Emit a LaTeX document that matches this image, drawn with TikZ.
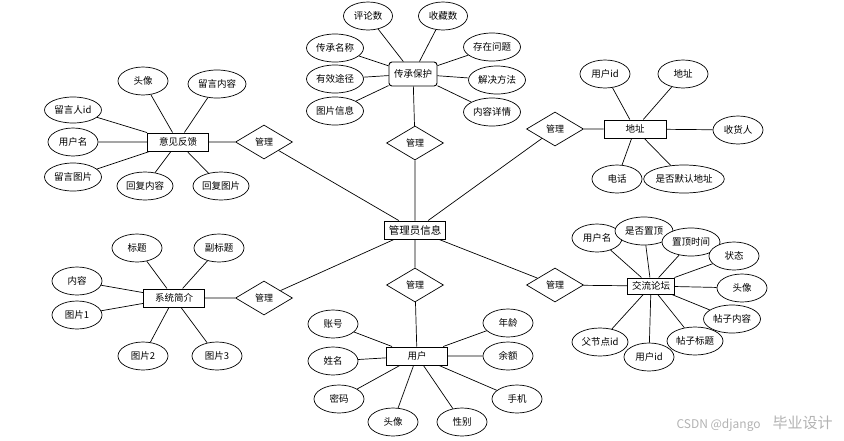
\documentclass[tikz,border=0pt]{standalone}
\usepackage{fontspec}
\setmainfont{Noto Sans CJK SC}
\usetikzlibrary{shapes.geometric}
\begin{document}
\begin{tikzpicture}[x=1pt,y=-1pt,line width=0.7pt,
  attr/.style={ellipse,draw,fill=white,inner sep=0pt,minimum width=50pt,minimum height=28pt,font=\fontsize{9.5}{10}\selectfont},
  ent/.style={rectangle,draw,fill=white,line width=1pt,inner sep=0pt,minimum width=61pt,minimum height=18pt,font=\fontsize{9.5}{10}\selectfont},
  rel/.style={diamond,draw,fill=white,inner sep=0pt,minimum width=57pt,minimum height=34pt,font=\fontsize{9}{10}\selectfont}]
  \useasboundingbox (0,0) rectangle (844,440);
  % centre
  \node[ent,font=\fontsize{10.5}{12}\selectfont] (admin) at (415,230) {管理员信息};
  % heritage
  \node[rel] (m1) at (415,143) {管理};
  \node[ent,rounded corners=3pt,line width=0.9pt,minimum width=48pt,minimum height=24pt] (herit) at (413,74) {传承保护};
  \node[attr,minimum width=49pt] (hcom) at (368,16) {评论数};
  \node[attr,minimum width=49pt] (hfav) at (443,16) {收藏数};
  \node[attr,minimum width=57pt] (hname) at (335,48) {传承名称};
  \node[attr,minimum width=57pt] (hway) at (335,79) {有效途径};
  \node[attr,minimum width=57pt] (hpic) at (335,111) {图片信息};
  \node[attr,minimum width=57pt] (hprob) at (492,47) {存在问题};
  \node[attr,minimum width=57pt] (hsol) at (497,80) {解决方法};
  \node[attr,minimum width=57pt] (hdet) at (492,112) {内容详情};
  \draw (herit) -- (hcom) (herit) -- (hfav) (herit) -- (hname) (herit) -- (hway)
    (herit) -- (hpic) (herit) -- (hprob) (herit) -- (hsol) (herit) -- (hdet);
  \draw (herit) -- (m1) -- (admin);
  % feedback
  \node[ent] (fb) at (178,142) {意见反馈};
  \node[rel] (m2) at (264,142) {管理};
  \node[attr] (fhead) at (143,81) {头像};
  \node[attr,minimum width=58pt] (fmsg) at (217,84) {留言内容};
  \node[attr,minimum width=57pt,minimum height=26pt] (fid) at (73,110) {留言人id};
  \node[attr] (fuser) at (73,142) {用户名};
  \node[attr,minimum width=57pt] (fpic) at (73,177) {留言图片};
  \node[attr,minimum width=56pt] (frep) at (145,186) {回复内容};
  \node[attr,minimum width=56pt] (freppic) at (221,186) {回复图片};
  \draw (fb) -- (fhead) (fb) -- (fmsg) (fb) -- (fid) (fb) -- (fuser)
    (fb) -- (fpic) (fb) -- (frep) (fb) -- (freppic);
  \draw (fb) -- (m2) -- (admin);
  % intro
  \node[ent] (sys) at (174,298) {系统简介};
  \node[rel] (m3) at (264,298) {管理};
  \node[attr] (stitle) at (137,248) {标题};
  \node[attr] (ssub) at (219,248) {副标题};
  \node[attr] (stext) at (77,281) {内容};
  \node[attr] (spic1) at (77,315) {图片1};
  \node[attr] (spic2) at (143,356) {图片2};
  \node[attr] (spic3) at (217,356) {图片3};
  \draw (sys) -- (stitle) (sys) -- (ssub) (sys) -- (stext) (sys) -- (spic1)
    (sys) -- (spic2) (sys) -- (spic3);
  \draw (sys) -- (m3) -- (admin);
  % user
  \node[rel] (m4) at (415,285) {管理};
  \node[ent] (user) at (417,356) {用户};
  \node[attr] (uacc) at (333,324) {账号};
  \node[attr] (uname) at (333,361) {姓名};
  \node[attr] (upwd) at (339,399) {密码};
  \node[attr] (uhead) at (393,422) {头像};
  \node[attr] (usex) at (462,422) {性别};
  \node[attr] (uphone) at (517,399) {手机};
  \node[attr] (ubal) at (508,356) {余额};
  \node[attr] (uage) at (508,323) {年龄};
  \draw (user) -- (uacc) (user) -- (uname) (user) -- (upwd) (user) -- (uhead)
    (user) -- (usex) (user) -- (uphone) (user) -- (ubal) (user) -- (uage);
  \draw (admin) -- (m4) -- (user);
  % address
  \node[rel] (m5) at (555,129) {管理};
  \node[ent,minimum width=62pt] (addr) at (635,129) {地址};
  \node[attr] (auid) at (605,74) {用户id};
  \node[attr] (aaddr) at (683,74) {地址};
  \node[attr] (arecv) at (738,130) {收货人};
  \node[attr] (atel) at (617,179) {电话};
  \node[attr,minimum width=76pt] (adef) at (684,179) {是否默认地址};
  \draw (addr) -- (auid) (addr) -- (aaddr) (addr) -- (arecv) (addr) -- (atel)
    (addr) -- (adef);
  \draw (admin) -- (m5) -- (addr);
  % forum
  \node[rel] (m6) at (555,285) {管理};
  \node[ent,minimum width=47pt,minimum height=16pt] (forum) at (651,286) {交流论坛};
  \node[attr] (puser) at (597,238) {用户名};
  \node[attr,minimum width=58pt] (ptop) at (644,231) {是否置顶};
  \node[attr,minimum width=58pt] (ptime) at (691,242) {置顶时间};
  \node[attr] (pstate) at (734,256) {状态};
  \node[attr] (phead) at (742,288) {头像};
  \node[attr,minimum width=57pt] (ptext) at (732,319) {帖子内容};
  \node[attr,minimum width=56pt] (ptitle) at (695,341) {帖子标题};
  \node[attr] (puid) at (649,357) {用户id};
  \node[attr,minimum width=56pt] (pparent) at (600,342) {父节点id};
  \draw (forum) -- (puser) (forum) -- (ptop) (forum) -- (ptime) (forum) -- (pstate)
    (forum) -- (phead) (forum) -- (ptext) (forum) -- (ptitle) (forum) -- (puid)
    (forum) -- (pparent);
  \draw (admin) -- (m6) -- (forum);
  % watermark
  \node[anchor=east,text=black!30,inner sep=0pt] (mark) at (833,424) {\fontsize{12}{14}\selectfont CSDN @django\hspace{12pt}\fontsize{15}{16}\selectfont 毕业设计};
\end{tikzpicture}
\end{document}
